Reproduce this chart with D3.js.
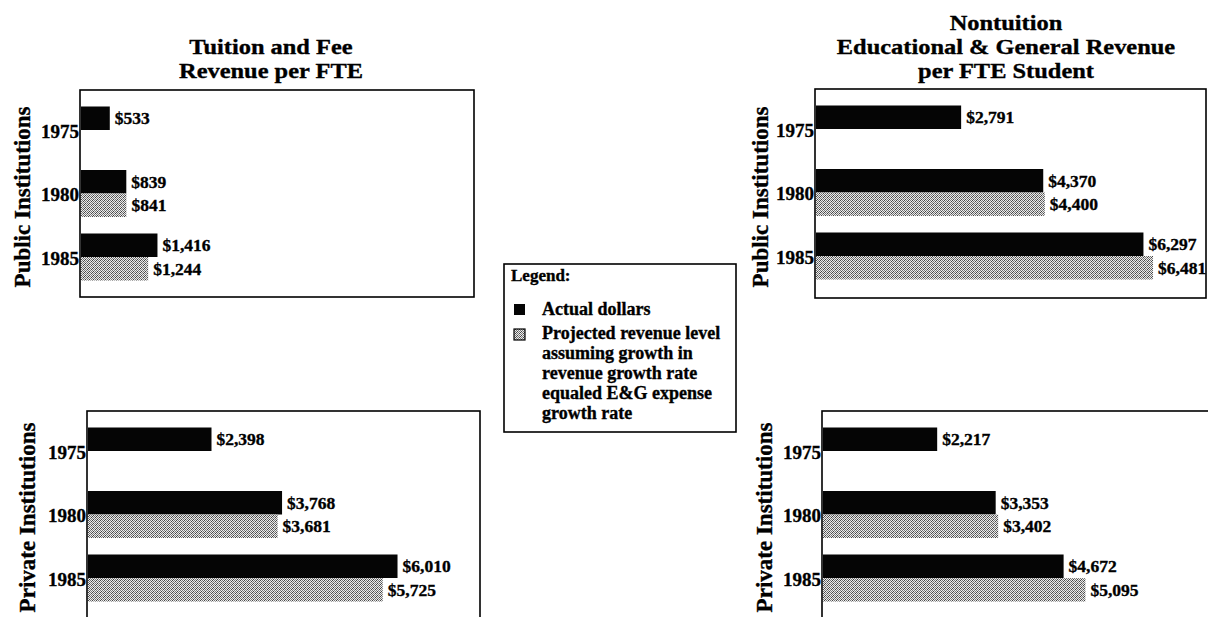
<!DOCTYPE html>
<html>
<head>
<meta charset="utf-8">
<script src="https://cdn.jsdelivr.net/npm/d3@7"></script>
<style>
  html, body { margin: 0; padding: 0; background: #fff; }
  svg { display: block; }
  text { font-family: "Liberation Serif", "Times New Roman", serif; font-weight: bold; fill: #000;
         stroke: #000; stroke-width: 0.35px; }
</style>
</head>
<body>
<svg id="chart" width="1208" height="617"></svg>
<script>
// ---------------- data ----------------
const years = ["1975", "1980", "1985"];
const seriesKeys = ["actual", "projected"];

const tuitionPublicActual = [533, 839, 1416];
const tuitionPublicProjected = [null, 841, 1244];
const tuitionPrivateActual = [2398, 3768, 6010];
const tuitionPrivateProjected = [null, 3681, 5725];

const nontuitionPublicActual = [2791, 4370, 6297];
const nontuitionPublicProjected = [null, 4400, 6481];
const nontuitionPrivateActual = [2217, 3353, 4672];
const nontuitionPrivateProjected = [null, 3402, 5095];

const leftTitle = ["Tuition and Fee", "Revenue per FTE"];
const rightTitle = ["Nontuition", "Educational & General Revenue", "per FTE Student"];
const sectorLabels = ["Public Institutions", "Private Institutions"];
const legendTitle = "Legend:";
const legendActual = ["Actual dollars"];
const legendProjected = ["Projected revenue level", "assuming growth in", "revenue growth rate", "equaled E&G expense", "growth rate"];

// ---------------- layout ----------------
const svg = d3.select("#chart");
const defs = svg.append("defs");
const pat = defs.append("pattern").attr("id", "dither")
  .attr("patternUnits", "userSpaceOnUse").attr("width", 4).attr("height", 4);
pat.append("rect").attr("width", 4).attr("height", 4).attr("fill", "#ececec");
[[0,0],[2,0],[1,1],[3,1],[0,2],[2,2],[1,3],[3,3]].forEach(([x,y], i) => {
  pat.append("rect").attr("x", x).attr("y", y).attr("width", 1).attr("height", 1)
    .attr("fill", i % 3 === 0 ? "#444" : "#777");
});

const fmt = d3.format("$,");

const panels = [
  { actual: tuitionPublicActual, projected: tuitionPublicProjected, label: sectorLabels[0],
    x0: 80, x1: 474, y0: 90, y1: 297, k: 0.054, lx: 22 },
  { actual: nontuitionPublicActual, projected: nontuitionPublicProjected, label: sectorLabels[0],
    x0: 815, x1: 1206, y0: 89, y1: 298, k: 0.052, lx: 760 },
  { actual: tuitionPrivateActual, projected: tuitionPrivateProjected, label: sectorLabels[1],
    x0: 87, x1: 480, y0: 411, y1: 660, k: 0.0515, lx: 27 },
  { actual: nontuitionPrivateActual, projected: nontuitionPrivateProjected, label: sectorLabels[1],
    x0: 822, x1: 1240, y0: 411, y1: 660, k: 0.0515, lx: 764 }
];

panels.forEach(p => {
  const g = svg.append("g");
  const x = d3.scaleLinear().domain([0, 7000]).range([p.x0 + 1, p.x0 + 1 + 7000 * p.k]);
  const y = d3.scalePoint().domain(years).range([p.y0 + 40, p.y0 + 167]);
  const sub = d3.scaleBand().domain(seriesKeys).range([-23.5, 23.5]);

  // frame
  g.append("rect").attr("x", p.x0).attr("y", p.y0)
    .attr("width", p.x1 - p.x0).attr("height", p.y1 - p.y0)
    .attr("fill", "none").attr("stroke", "#000").attr("stroke-width", 1.6);

  const rows = [];
  years.forEach((yr, i) => {
    seriesKeys.forEach(s => {
      const v = s === "actual" ? p.actual[i] : p.projected[i];
      if (v != null) rows.push({ yr, s, v });
    });
  });

  g.selectAll("rect.bar").data(rows).join("rect").attr("class", "bar")
    .attr("x", x(0))
    .attr("y", d => y(d.yr) + sub(d.s))
    .attr("width", d => x(d.v) - x(0))
    .attr("height", sub.bandwidth())
    .attr("fill", d => d.s === "actual" ? "#050505" : "url(#dither)");

  g.selectAll("text.val").data(rows).join("text").attr("class", "val")
    .attr("x", d => x(d.v) + 5)
    .attr("y", d => y(d.yr) + sub(d.s) + sub.bandwidth() / 2)
    .attr("dy", "0.35em")
    .attr("font-size", 17.5)
    .text(d => fmt(d.v));

  // year labels
  g.selectAll("text.yr").data(years).join("text").attr("class", "yr")
    .attr("x", p.x0 - 1)
    .attr("y", d => y(d) + 7.5)
    .attr("text-anchor", "end")
    .attr("font-size", 19)
    .text(d => d);

  // sector label
  g.append("text")
    .attr("transform", `translate(${p.lx},${(p.y0 + Math.min(p.y1, 617) + 1) / 2 + 3}) rotate(-90)`)
    .attr("text-anchor", "middle").attr("dy", "0.35em")
    .attr("font-size", 23)
    .text(p.label);
});

// titles (slightly widened serif, like the original typesetting)
svg.append("g").selectAll("text").data(leftTitle).join("text")
  .attr("transform", (d, i) => `translate(271,${54 + i * 24}) scale(1.11,1)`)
  .attr("text-anchor", "middle").attr("font-size", 22)
  .text(d => d);
svg.append("g").selectAll("text").data(rightTitle).join("text")
  .attr("transform", (d, i) => `translate(1006,${30 + i * 24}) scale(1.11,1)`)
  .attr("text-anchor", "middle").attr("font-size", 22)
  .text(d => d);

// legend
const lg = svg.append("g");
lg.append("rect").attr("x", 504).attr("y", 264).attr("width", 232).attr("height", 168)
  .attr("fill", "#fff").attr("stroke", "#000").attr("stroke-width", 1.6);
lg.append("text").attr("x", 511).attr("y", 281).attr("font-size", 17).text(legendTitle);
lg.append("rect").attr("x", 514).attr("y", 304).attr("width", 11).attr("height", 11).attr("fill", "#050505");
lg.append("text").attr("x", 542).attr("y", 315).attr("font-size", 18).text(legendActual[0]);
lg.append("rect").attr("x", 514).attr("y", 329).attr("width", 11).attr("height", 11)
  .attr("fill", "url(#dither)").attr("stroke", "#000").attr("stroke-width", 1.2);
lg.selectAll("text.proj").data(legendProjected).join("text").attr("class", "proj")
  .attr("x", 542).attr("y", (d, i) => 339 + i * 20)
  .attr("font-size", 18)
  .text(d => d);
</script>
</body>
</html>
